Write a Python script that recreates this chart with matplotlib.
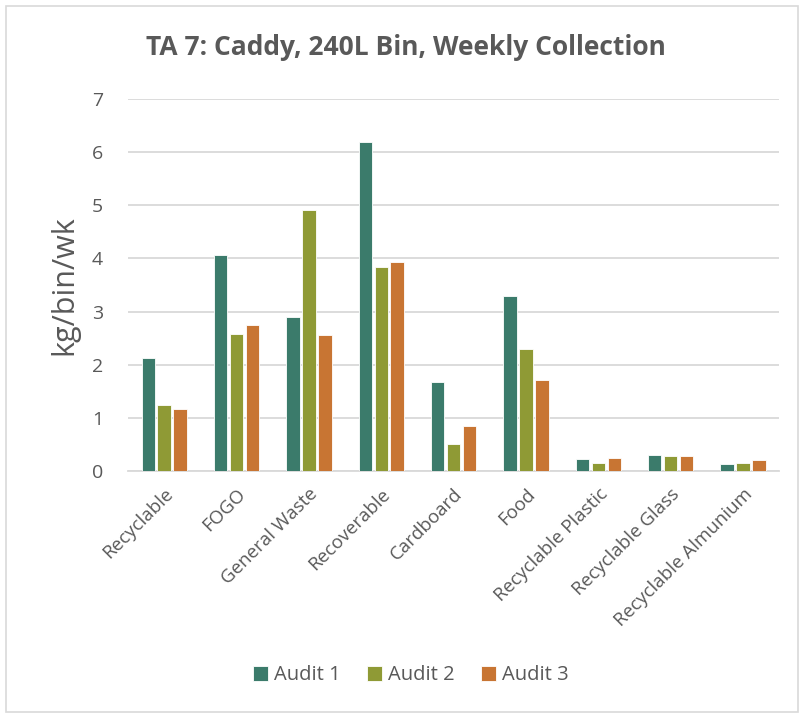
import matplotlib
matplotlib.use("Agg")
import matplotlib.pyplot as plt
from matplotlib.patches import Rectangle
import numpy as np

categories = ["Recyclable", "FOGO", "General Waste", "Recoverable", "Cardboard",
              "Food", "Recyclable Plastic", "Recyclable Glass", "Recyclable Almunium"]
audit_1 = [2.12, 4.06, 2.90, 6.19, 1.68, 3.29, 0.23, 0.30, 0.13]
audit_2 = [1.24, 2.57, 4.92, 3.83, 0.50, 2.30, 0.16, 0.29, 0.16]
audit_3 = [1.17, 2.75, 2.56, 3.93, 0.85, 1.72, 0.25, 0.29, 0.20]
series_names = ["Audit 1", "Audit 2", "Audit 3"]
y_ticks = [0, 1, 2, 3, 4, 5, 6, 7]

colors = ["#3B7B6B", "#8F9A35", "#C87533"]
text_grey = "#595959"
plt.rcParams["font.family"] = ["Open Sans", "DejaVu Sans"]

fig = plt.figure(figsize=(8.0, 7.13), dpi=100)
fig.patches.append(Rectangle((0.008, 0.002), 0.989, 0.99, transform=fig.transFigure,
                             fill=False, edgecolor="#D9D9D9", linewidth=1.2))
ax = fig.add_axes([0.16, 0.3394, 0.814, 0.5217])

x = np.arange(len(categories))
step = 0.22
width = 0.185
for i, (vals, name) in enumerate(zip([audit_1, audit_2, audit_3], series_names)):
    ax.bar(x + (i - 1) * step, vals, width=width, color=colors[i], label=name,
           edgecolor="white", linewidth=0.6, zorder=3)

ax.set_xlim(-0.5, len(categories) - 0.5)
ax.set_ylim(0, 7)
ax.set_yticks(y_ticks)
ax.set_yticklabels([str(t) for t in y_ticks])
ax.yaxis.grid(True, color="#D9D9D9", linewidth=1.3, zorder=0)
ax.set_axisbelow(True)
for side in ["top", "right", "left"]:
    ax.spines[side].set_visible(False)
ax.spines["bottom"].set_color("#D9D9D9")
ax.spines["bottom"].set_linewidth(1.3)
ax.tick_params(axis="y", length=0, pad=18, labelsize=14, labelcolor=text_grey)
ax.tick_params(axis="x", length=0, pad=10, labelsize=13.5, labelcolor=text_grey)
ax.set_xticks(x)
ax.set_xticklabels(categories, rotation=45, ha="right", rotation_mode="anchor")

ax.set_ylabel("kg/bin/wk", fontsize=22, color=text_grey, labelpad=9)
fig.text(0.507, 0.934, "TA 7: Caddy, 240L Bin, Weekly Collection", ha="center",
         va="center", fontsize=19, fontweight="bold", color=text_grey)

leg = fig.legend(loc="center", bbox_to_anchor=(0.514, 0.053), ncol=3, frameon=False,
                 fontsize=14.5, handlelength=0.75, handleheight=0.75, handletextpad=0.3,
                 columnspacing=1.3)
for t in leg.get_texts():
    t.set_color(text_grey)

fig.savefig("out.png", dpi=100)
